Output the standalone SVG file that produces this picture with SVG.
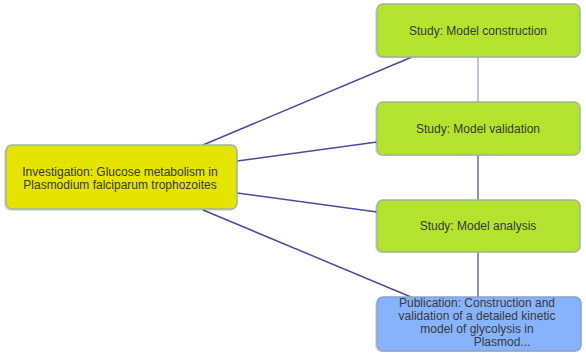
<svg xmlns="http://www.w3.org/2000/svg" width="586" height="354" viewBox="0 0 586 354">
  <defs>
    <style>
      .edge { stroke: #4b4b9c; stroke-width: 1.5; fill: none; }
      .link { stroke-width: 2; fill: none; }
      .box { stroke: #9fb59c; stroke-width: 1.5; }
      .inv { fill: #e4e400; }
      .study { fill: #b4e32e; }
      .pub { fill: #86b3fb; stroke: #8aa3c9; }
      .shadow { fill: #000; opacity: 0.12; }
      text { font-family: "Liberation Sans", Arial, sans-serif; font-size: 12px; fill: #3a3a3a; text-anchor: middle; }
    </style>
  </defs>

  <!-- connectors -->
  <g id="connectors">
    <line class="link" x1="478" y1="57" x2="478" y2="102" stroke="#c4c4de"/>
    <line class="link" x1="478" y1="155" x2="478" y2="200" stroke="#8e8ec4"/>
    <line class="link" x1="478" y1="252" x2="478" y2="297" stroke="#8e8ec4"/>
    <line class="edge" x1="203" y1="145" x2="412" y2="57"/>
    <line class="edge" x1="237" y1="161" x2="377" y2="142"/>
    <line class="edge" x1="237" y1="193" x2="377" y2="212"/>
    <line class="edge" x1="203" y1="210" x2="411" y2="297"/>
  </g>

  <!-- investigation -->
  <g id="investigation">
    <rect class="shadow" x="4" y="147" width="232" height="64" rx="6"/>
    <rect class="box inv" x="6" y="145" width="231" height="64" rx="6"/>
    <text x="120" y="176">Investigation: Glucose metabolism in</text>
    <text x="120" y="189">Plasmodium falciparum trophozoites</text>
  </g>

  <!-- studies -->
  <g id="study-construction">
    <rect class="shadow" x="375" y="6" width="204" height="52" rx="6"/>
    <rect class="box study" x="377" y="4" width="203" height="53" rx="6"/>
    <text x="478" y="35">Study: Model construction</text>
  </g>

  <g id="study-validation">
    <rect class="shadow" x="375" y="104" width="204" height="52" rx="6"/>
    <rect class="box study" x="377" y="102" width="203" height="53" rx="6"/>
    <text x="478" y="133">Study: Model validation</text>
  </g>

  <g id="study-analysis">
    <rect class="shadow" x="375" y="202" width="204" height="51" rx="6"/>
    <rect class="box study" x="377" y="200" width="203" height="52" rx="6"/>
    <text x="478" y="230">Study: Model analysis</text>
  </g>

  <!-- publication -->
  <g id="publication">
    <rect class="shadow" x="375" y="299" width="205" height="53" rx="6"/>
    <rect class="box pub" x="377" y="297" width="204" height="54" rx="6"/>
    <text x="477" y="307">Publication: Construction and</text>
    <text x="477" y="320">validation of a detailed kinetic</text>
    <text x="477" y="333">model of glycolysis in</text>
    <text x="502" y="346">Plasmod...</text>
  </g>
</svg>
